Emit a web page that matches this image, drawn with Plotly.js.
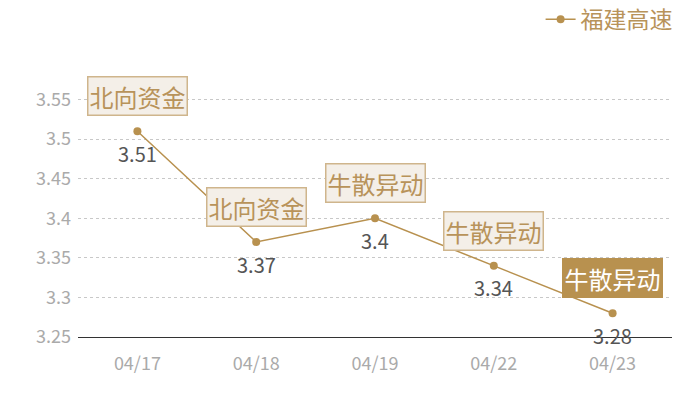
<!DOCTYPE html>
<html>
<head>
<meta charset="utf-8">
<script src="https://cdn.plot.ly/plotly-3.0.1.min.js"></script>
<style>
  html, body { margin: 0; padding: 0; background: #fff; }
  #graph { width: 700px; height: 400px; }
</style>
</head>
<body>
<div id="graph"></div>
<script>
var dates = ['04/17', '04/18', '04/19', '04/22', '04/23'];
var prices = [3.51, 3.37, 3.4, 3.34, 3.28];
var tags = ['北向资金', '北向资金', '牛散异动', '牛散异动', '牛散异动'];
var highlight = [false, false, false, false, true];
var yTicks = [3.25, 3.3, 3.35, 3.4, 3.45, 3.5, 3.55];

var gold = '#b8914f';
var font = '"Noto Sans CJK SC", "Noto Sans", sans-serif';

var trace = {
  x: dates,
  y: prices,
  name: '福建高速',
  type: 'scatter',
  mode: 'lines+markers',
  line: {color: gold, width: 1.5},
  marker: {color: gold, size: 8},
  cliponaxis: false
};

var annotations = [];
for (let i = 0; i < dates.length; i++) {
  // value label under the point
  annotations.push({
    x: dates[i],
    y: prices[i],
    text: String(prices[i]),
    showarrow: false,
    yshift: -22,
    font: {family: font, size: 20, color: '#555'}
  });
  // event tag above the point
  annotations.push({
    x: dates[i],
    y: prices[i],
    text: tags[i],
    showarrow: false,
    yshift: 35,
    font: {family: font, size: 24, color: highlight[i] ? '#fff' : '#b8935a'},
    bgcolor: highlight[i] ? gold : '#f4efe8',
    bordercolor: highlight[i] ? gold : '#cfb58c',
    borderwidth: 1.5,
    borderpad: 1
  });
}

var layout = {
  width: 700,
  height: 400,
  margin: {l: 78, r: 28, t: 60, b: 63},
  paper_bgcolor: '#fff',
  plot_bgcolor: '#fff',
  font: {family: font},
  showlegend: true,
  legend: {
    orientation: 'h',
    xref: 'container', yref: 'container',
    x: 0.968, xanchor: 'right',
    y: 0.952, yanchor: 'middle',
    font: {family: font, size: 23, color: '#b8935a'}
  },
  xaxis: {
    type: 'category',
    range: [-0.5, 4.5],
    showgrid: false,
    showline: true,
    linecolor: '#333',
    linewidth: 1,
    ticks: '',
    tickfont: {family: font, size: 18, color: '#aaa'},
    ticklabelstandoff: 10
  },
  yaxis: {
    range: [3.25, 3.6],
    tickvals: yTicks,
    ticktext: yTicks.map(String),
    showgrid: true,
    gridcolor: '#c8c8c8',
    griddash: 'dot',
    zeroline: false,
    showline: false,
    ticks: '',
    tickfont: {family: font, size: 18, color: '#aaa'},
    ticklabelstandoff: 6
  },
  annotations: annotations
};

Plotly.newPlot('graph', [trace], layout, {displayModeBar: false});
</script>
</body>
</html>
